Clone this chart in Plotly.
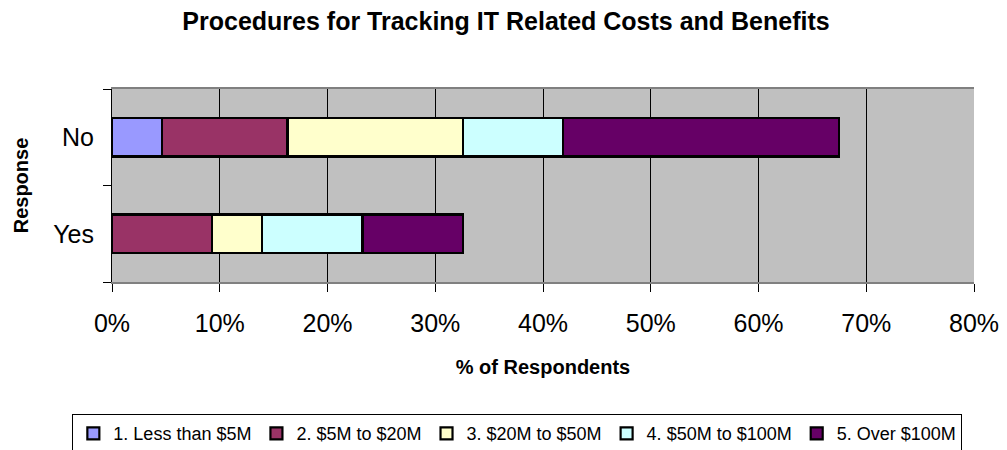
import plotly.graph_objects as go

# Stacked share of respondents, by company revenue band
responses = ["Yes", "No"]
bands = [
    "1. Less than $5M",
    "2. $5M to $20M",
    "3. $20M to $50M",
    "4. $50M to $100M",
    "5. Over $100M",
]
# percent of respondents per band, ordered as `responses`
band_values = {
    "1. Less than $5M": [0.0, 4.65],
    "2. $5M to $20M": [9.30, 11.63],
    "3. $20M to $50M": [4.65, 16.28],
    "4. $50M to $100M": [9.30, 9.30],
    "5. Over $100M": [9.30, 25.58],
}
band_colors = ["#9999FF", "#993366", "#FFFFCC", "#CCFFFF", "#660066"]
x_ticks = [0, 10, 20, 30, 40, 50, 60, 70, 80]
x_tick_labels = ["0%", "10%", "20%", "30%", "40%", "50%", "60%", "70%", "80%"]

FONT = "Liberation Sans, Arial, sans-serif"

# the page body adds an 8px margin, so the figure is sized to fit the window
fig_w, fig_h = 999, 442

fig = go.Figure()
for band, color in zip(bands, band_colors):
    fig.add_trace(
        go.Bar(
            y=responses,
            x=band_values[band],
            name=band,
            orientation="h",
            width=0.4,
            marker={"color": color, "line": {"color": "#000000", "width": 2.2}},
        ),
    )

fig.update_layout(
    width=fig_w,
    height=fig_h,
    barmode="stack",
    paper_bgcolor="#FFFFFF",
    plot_bgcolor="#C0C0C0",
    font={"family": FONT, "color": "#000000"},
    margin={"l": 104, "r": 32.5, "t": 81, "b": 167.5, "autoexpand": False},
    title={
        "text": "<b>Procedures for Tracking IT Related Costs and Benefits</b>",
        "font": {"size": 25, "family": FONT},
        "x": 0.4985,
        "xanchor": "center",
        "y": 1 - 13 / fig_h,
        "yanchor": "middle",
    },
    legend={
        "orientation": "h",
        "x": -0.046,
        "xanchor": "left",
        "y": -0.685,
        "yanchor": "top",
        "font": {"size": 18, "family": FONT},
        "bordercolor": "#000000",
        "borderwidth": 1,
        "bgcolor": "#FFFFFF",
        "traceorder": "normal",
        "itemwidth": 30,
    },
    showlegend=True,
)

fig.update_xaxes(
    range=[0, 80],
    tickvals=x_ticks,
    ticktext=x_tick_labels,
    tickfont={"size": 25},
    ticks="outside",
    ticklen=8,
    tickcolor="#000000",
    ticklabelstandoff=10,
    showgrid=True,
    gridcolor="#000000",
    gridwidth=1,
    showline=True,
    linecolor="#808080",
    linewidth=2,
    mirror=True,
    zeroline=False,
    title={"text": "<b>% of Respondents</b>", "font": {"size": 20}, "standoff": 24},
)
fig.update_yaxes(
    categoryorder="array",
    categoryarray=responses,
    tickson="boundaries",
    ticks="outside",
    ticklen=8,
    tickcolor="#000000",
    tickfont={"size": 25},
    ticklabelstandoff=12,
    showgrid=False,
    showline=True,
    linecolor="#000000",
    linewidth=1,
    title={"text": "<b>Response</b>", "font": {"size": 20}, "standoff": 19},
)

fig.write_html("out.html")
